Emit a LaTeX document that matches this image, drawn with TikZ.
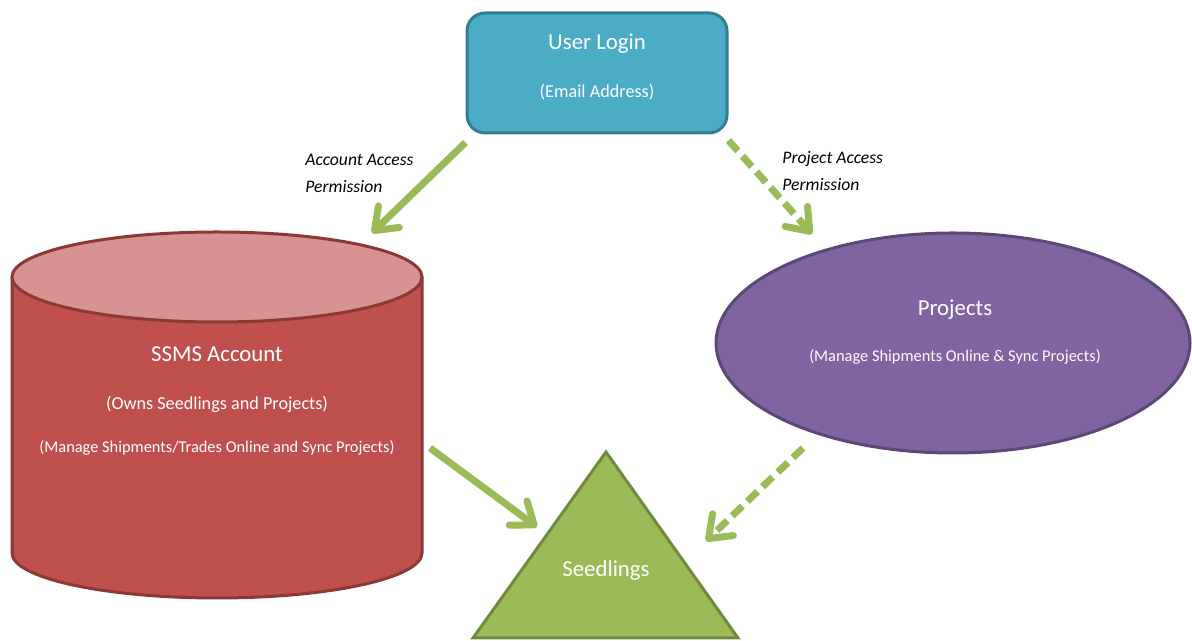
\documentclass[tikz,border=0pt]{standalone}
\usepackage{fontspec}
\setmainfont{Carlito}
\usetikzlibrary{arrows.meta,shapes.geometric}

\definecolor{bleu}{HTML}{4BACC6}
\definecolor{bleufonce}{HTML}{357D91}
\definecolor{rouge}{HTML}{C0504D}
\definecolor{rougeclair}{HTML}{D69391}
\definecolor{rougefonce}{HTML}{8C3836}
\definecolor{mauve}{HTML}{8064A2}
\definecolor{mauvefonce}{HTML}{5C4776}
\definecolor{vert}{HTML}{9BBB59}
\definecolor{vertfonce}{HTML}{71893F}

\begin{document}
\begin{tikzpicture}[x=0.5pt,y=0.5pt,
	titre/.style={text=white,inner sep=0pt,font=\fontsize{11.4}{14}\selectfont},
	soustitre/.style={text=white,inner sep=0pt,font=\fontsize{9.1}{11}\selectfont},
	petit/.style={text=white,inner sep=0pt,font=\fontsize{8.2}{10}\selectfont},
	fleche/.style={vert,line width=3.5pt,-{Straight Barb[length=10pt,width=15pt,round]}},
	pointille/.style={dash pattern=on 7pt off 3.5pt},
	permission/.style={align=left,anchor=west,inner sep=0pt,font=\itshape\fontsize{8.8}{13.5}\selectfont}]

\useasboundingbox (0,0) rectangle (1192,641);

% utilisateur
\node[draw=bleufonce,fill=bleu,line width=1.5pt,rounded corners=9pt,minimum width=130pt,minimum height=60pt] (login) at (597,568) {};
\node[titre] (login-t) at (597,597) {User Login};
\node[soustitre] (login-s) at (597,549) {(Email Address)};

% compte SSMS
\fill[rouge] (12,364) -- (12,88) arc[start angle=180,end angle=360,x radius=205,y radius=45] -- (422,364) -- cycle;
\draw[rougefonce,line width=1.5pt] (12,364) -- (12,88) arc[start angle=180,end angle=360,x radius=205,y radius=45] -- (422,364);
\draw[rougefonce,fill=rougeclair,line width=1.5pt] (217,364) ellipse[x radius=205,y radius=45];
\node[titre] (compte-t) at (217,287) {SSMS Account};
\node[soustitre] (compte-s) at (217,237) {(Owns Seedlings and Projects)};
\node[petit] (compte-p) at (217,193) {(Manage Shipments/Trades Online and Sync Projects)};

% projets
\node[ellipse,draw=mauvefonce,fill=mauve,line width=1.5pt,minimum width=237pt,minimum height=110pt,inner sep=0pt] (projets) at (953,298) {};
\node[titre] (projets-t) at (955,331) {Projects};
\node[petit] (projets-p) at (955,284) {(Manage Shipments Online \& Sync Projects)};

% plants
\draw[vertfonce,fill=vert,line width=1.5pt] (606,189) -- (738,3) -- (473,3) -- cycle;
\node[titre] (plants-t) at (606,70) {Seedlings};

% fleches
\coordinate (compte-haut) at (372,408);
\coordinate (projets-haut) at (812,407);
\coordinate (compte-droite) at (430,193);
\coordinate (plants-gauche) at (537,114);
\coordinate (projets-bas) at (803,193);
\coordinate (plants-droite) at (706,100);

\draw[fleche] ([yshift=-4pt]login.south west) -- (compte-haut);
\draw[fleche,pointille] ([yshift=-3pt]login.south east) -- (projets-haut);
\draw[fleche] (compte-droite) -- (plants-gauche);
\draw[fleche,pointille] (projets-bas) -- (plants-droite);

\node[permission] (acces-compte) at (305,468) {Account Access\\Permission};
\node[permission] (acces-projet) at (782,470) {Project Access\\Permission};

\end{tikzpicture}
\end{document}
